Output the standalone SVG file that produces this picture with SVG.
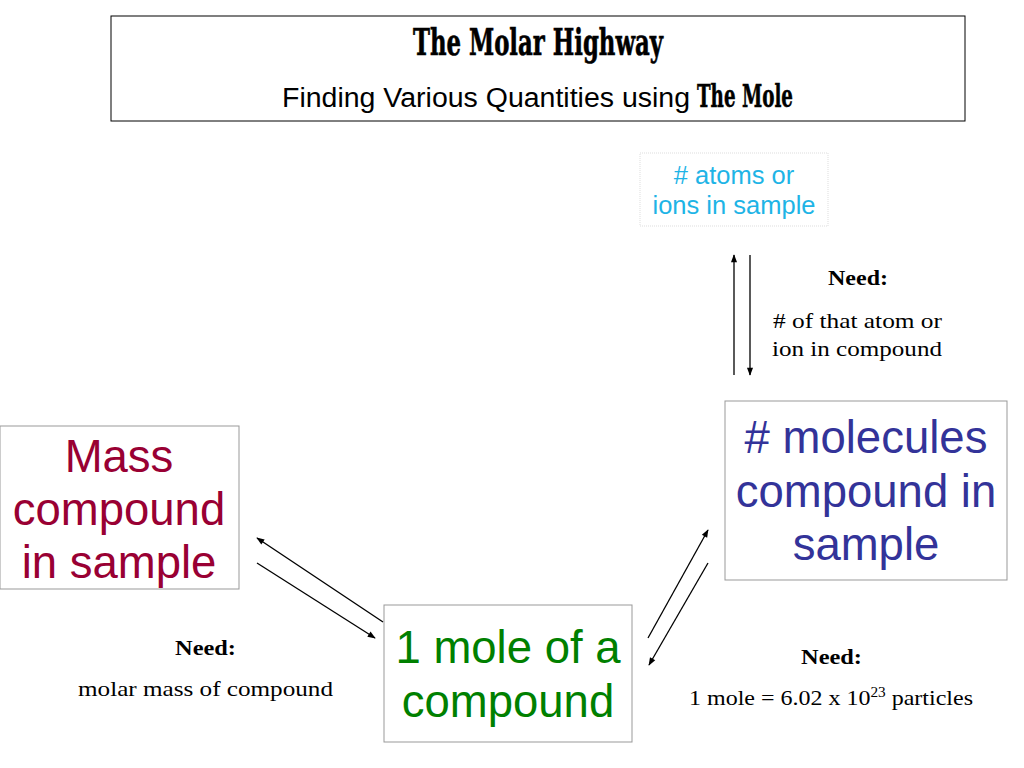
<svg xmlns="http://www.w3.org/2000/svg" width="1024" height="768" viewBox="0 0 1024 768">
<defs>
<marker id="ah" viewBox="0 0 10 10" refX="9" refY="5" markerWidth="9" markerHeight="8" markerUnits="userSpaceOnUse" orient="auto">
<path d="M0,1.2 L10,5 L0,8.8 Z" fill="#000"/>
</marker>
<style>
.box{fill:#fff;stroke:#999;stroke-width:1}
.big{font-family:"Liberation Sans",Arial,sans-serif;font-size:45.5px;text-anchor:middle}
.serif{font-family:"Liberation Serif","DejaVu Serif",serif;font-size:22px;fill:#000}
.bold{font-weight:bold}
.cond{font-family:"DejaVu Serif Condensed","Liberation Serif",serif;font-weight:bold;fill:#000}
.conn line{stroke:#000;stroke-width:1.3;marker-end:url(#ah)}
</style>
</defs>
<rect width="1024" height="768" fill="#fff"/>
<g id="title">
<rect x="111" y="16" width="854" height="105" fill="#fff" stroke="#000" stroke-width="1"/>
<text class="cond" x="413" y="55" font-size="37" textLength="250" lengthAdjust="spacingAndGlyphs" stroke="#000" stroke-width="0.6">The Molar Highway</text>
<text x="282" y="107" font-family="'Liberation Sans',Arial,sans-serif" font-size="27" textLength="408" lengthAdjust="spacingAndGlyphs" fill="#000">Finding Various Quantities using</text>
<text class="cond" x="697" y="107" font-size="32" textLength="96" lengthAdjust="spacingAndGlyphs" stroke="#000" stroke-width="0.5">The Mole</text>
</g>
<g id="atoms">
<rect x="640" y="153" width="188" height="73" fill="#fff" stroke="#ddd" stroke-width="1" stroke-dasharray="1,1"/>
<text text-anchor="middle" font-family="'Liberation Sans',Arial,sans-serif" font-size="25.5" fill="#1EB4E6"><tspan x="734" y="184"># atoms or</tspan><tspan x="734" y="214">ions in sample</tspan></text>
</g>
<g id="molecules">
<rect class="box" x="725" y="401" width="282" height="179"/>
<text class="big" fill="#333399"><tspan x="866" y="453"># molecules</tspan><tspan x="866" y="507">compound in</tspan><tspan x="866" y="560">sample</tspan></text>
</g>
<g id="mass">
<rect class="box" x="0" y="426" width="239" height="163"/>
<text class="big" fill="#990033"><tspan x="119" y="472">Mass</tspan><tspan x="119" y="525">compound</tspan><tspan x="119" y="578">in sample</tspan></text>
</g>
<g id="mole">
<rect class="box" x="384" y="605" width="248" height="137"/>
<text class="big" fill="#008000"><tspan x="508" y="663">1 mole of a</tspan><tspan x="508" y="717">compound</tspan></text>
</g>
<g id="need-atoms">
<text class="serif bold" x="828" y="285" textLength="60" lengthAdjust="spacingAndGlyphs">Need:</text>
<text class="serif" x="773" y="328" textLength="169" lengthAdjust="spacingAndGlyphs"># of that atom or</text>
<text class="serif" x="772" y="356" textLength="170" lengthAdjust="spacingAndGlyphs">ion in compound</text>
</g>
<g id="need-mass">
<text class="serif bold" x="175" y="655" textLength="61" lengthAdjust="spacingAndGlyphs">Need:</text>
<text class="serif" x="78" y="696" textLength="255" lengthAdjust="spacingAndGlyphs">molar mass of compound</text>
</g>
<g id="need-molecules">
<text class="serif bold" x="801" y="664" textLength="61" lengthAdjust="spacingAndGlyphs">Need:</text>
<text class="serif" x="689" y="705" textLength="284" lengthAdjust="spacingAndGlyphs">1 mole = 6.02 x 10<tspan font-size="14" dy="-8">23</tspan><tspan dy="8"> particles</tspan></text>
</g>
<g id="connectors" class="conn">
<line x1="734" y1="375" x2="734" y2="255"/>
<line x1="750" y1="255" x2="750" y2="375"/>
<line x1="383" y1="622" x2="257" y2="538"/>
<line x1="257" y1="563" x2="375" y2="638"/>
<line x1="648" y1="638" x2="708" y2="530"/>
<line x1="708" y1="563" x2="649" y2="665"/>
</g>
</svg>
